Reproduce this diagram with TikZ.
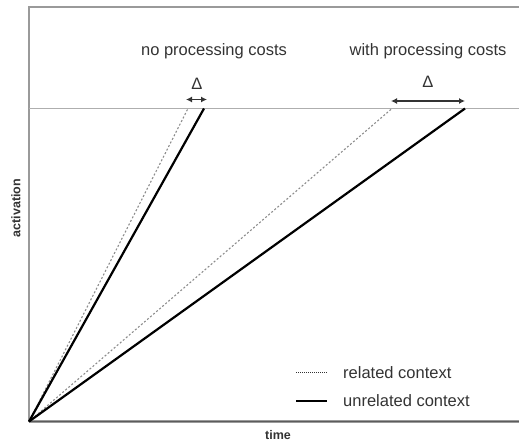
\documentclass[tikz,border=0pt]{standalone}
\usepackage{fontspec}
\setmainfont{Liberation Sans}
\usetikzlibrary{arrows.meta}
\definecolor{txt}{HTML}{333333}
\definecolor{axisgray}{HTML}{9A9A9A}
\definecolor{relgray}{HTML}{8C8C8C}
\tikzset{
  lbl/.style={text=txt, font=\fontsize{16.5}{18}\selectfont, inner sep=0pt},
  axlbl/.style={text=txt, font=\fontsize{12.5}{14}\selectfont\bfseries, inner sep=0pt},
  unrel/.style={line width=2.2pt, black},
  rel/.style={line width=1.1pt, relgray, dash pattern=on 2pt off 2pt},
  delta/.style={line width=1.6pt, txt, {Latex[length=6pt,width=6pt]}-{Latex[length=6pt,width=6pt]}},
  border/.style={line width=1.2pt, axisgray}
}
\begin{document}
\begin{tikzpicture}[x=1pt,y=-1pt]
\useasboundingbox (0,0) rectangle (519,444);
% frame and threshold
\coordinate (o) at (29,421.5);
\draw[border] (519,7) -- (29,7) -- (o);
\draw[line width=3pt, axisgray] (29,421.5) -- (519,421.5);
\draw[line width=1pt, axisgray!60!black] (29,421.5) -- (519,421.5);
\draw[line width=0.9pt, axisgray!80] (29,108.5) -- (519,108.5);
% end points on the threshold
\coordinate (a1) at (188,108.5);
\coordinate (b1) at (204,108.5);
\coordinate (a2) at (392,108.5);
\coordinate (b2) at (465,108.5);
% activation curves
\draw[rel] (o) -- (a1);
\draw[rel] (o) -- (a2);
\draw[unrel] (o) -- (b1);
\draw[unrel] (o) -- (b2);
% differences
\coordinate (d1l) at (186,99.5);
\coordinate (d1r) at (207,99.5);
\coordinate (d2l) at (391,101);
\coordinate (d2r) at (465,101);
\draw[delta] (d1l) -- (d1r);
\draw[delta] (d2l) -- (d2r);
\node[lbl] (dl1) at (197,84) {Δ};
\node[lbl] (dl2) at (428,82) {Δ};
% titles
\node[lbl] (t1) at (214,51) {no processing costs};
\node[lbl] (t2) at (428,51) {with processing costs};
% axis labels
\node[axlbl] (xl) at (278,435) {time};
\node[axlbl, rotate=90] (yl) at (16,208) {activation};
% legend
\coordinate (l1a) at (296,372.5);
\coordinate (l1b) at (327,372.5);
\coordinate (l2a) at (296,401);
\coordinate (l2b) at (327,401);
\draw[line width=1.1pt, txt, dash pattern=on 1pt off 1pt] (l1a) -- (l1b);
\draw[line width=2pt, black] (l2a) -- (l2b);
\node[lbl, anchor=west] (k1) at (343,372.5) {related context};
\node[lbl, anchor=west] (k2) at (343,400.5) {unrelated context};
\end{tikzpicture}
\end{document}
